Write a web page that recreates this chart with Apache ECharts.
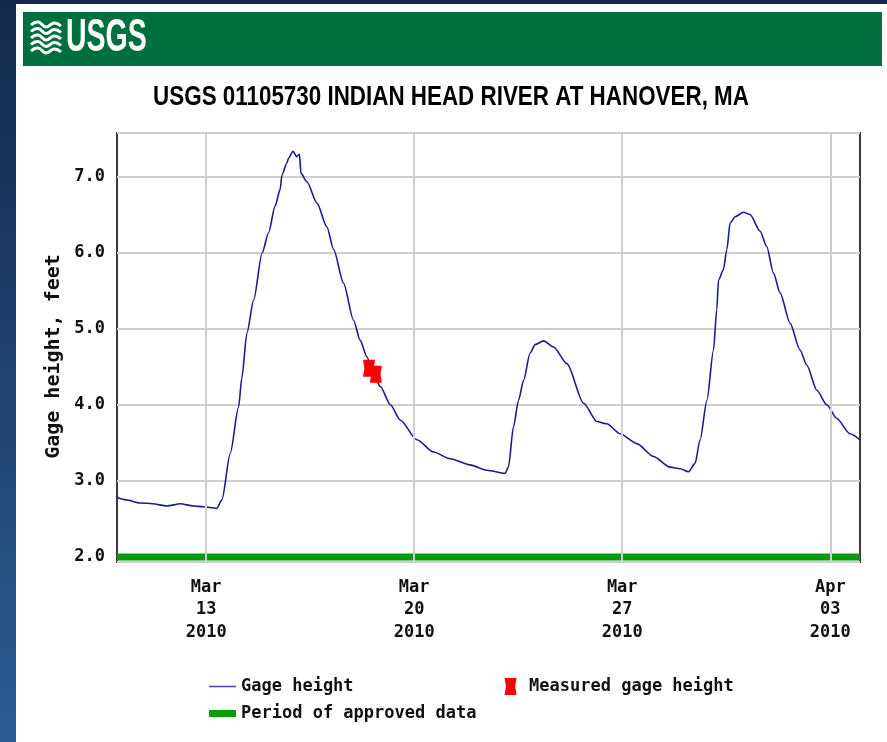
<!DOCTYPE html>
<html>
<head>
<meta charset="utf-8">
<title>USGS 01105730 Indian Head River at Hanover, MA</title>
<script src="https://cdn.jsdelivr.net/npm/echarts@6/dist/echarts.min.js"></script>
<style>
  html, body { margin: 0; padding: 0; background: #fff; }
  #chart { width: 887px; height: 742px; }
</style>
</head>
<body>
<div id="chart"></div>
<script>
// days counted from Mar 10 2010 00:00
var gageDay = [0, 0.3, 0.78, 1.2, 1.68, 2.13, 2.58, 2.9, 3.36, 3.53, 3.81, 4.09, 4.2, 4.37, 4.6,
    4.88, 5.1, 5.32, 5.49, 5.55, 5.72, 5.77, 5.92, 6.05, 6.14, 6.19, 6.39, 6.73, 7.06, 7.29,
    7.62, 7.96, 8.18, 8.41, 8.6, 8.86, 9.2, 9.53, 10.09, 10.65, 11.21, 11.88, 12.44, 13.06,
    13.17, 13.34, 13.51, 13.68, 13.9, 14.07, 14.35, 14.69, 15.14, 15.7, 16.15, 16.48, 16.93,
    17.49, 18.05, 18.61, 18.95, 19.23, 19.45, 19.62, 19.85, 20.07, 20.18, 20.24, 20.4, 20.52,
    20.63, 20.8, 21.08, 21.3, 21.64, 21.86, 22.09, 22.31, 22.65, 22.98, 23.21, 23.55, 23.88,
    24.22, 24.66, 25];
var gageHeight = [2.78, 2.75, 2.71, 2.7, 2.67, 2.7, 2.67, 2.66, 2.64, 2.75, 3.36, 3.97, 4.35, 4.94, 5.38,
    5.99, 6.26, 6.61, 6.83, 7.02, 7.18, 7.24, 7.33, 7.26, 7.29, 7.04, 6.93, 6.65, 6.34, 6.04,
    5.6, 5.11, 4.85, 4.63, 4.42, 4.24, 4.0, 3.8, 3.54, 3.38, 3.29, 3.21, 3.14, 3.1,
    3.18, 3.71, 4.06, 4.32, 4.68, 4.79, 4.84, 4.76, 4.54, 4.02, 3.78, 3.75, 3.62,
    3.49, 3.32, 3.18, 3.16, 3.12, 3.23, 3.54, 4.06, 4.72, 5.25, 5.64, 5.77, 6.04,
    6.39, 6.47, 6.53, 6.5, 6.28, 6.08, 5.73, 5.47, 5.07, 4.72, 4.52, 4.19, 4.0,
    3.82, 3.62, 3.54];
var measuredDay = [8.48, 8.71];
var measuredHeight = [4.48, 4.40];
var approvedDay = [0, 25];
var approvedHeight = [2.0, 2.0];
var tickDays = [3, 10, 17, 24];
var tickLabels = ['Mar\n13\n2010', 'Mar\n20\n2010', 'Mar\n27\n2010', 'Apr\n03\n2010'];

var mono = 'DejaVu Sans Mono';
var markerPath = 'path://M0,0 L12,0 L10.6,8.5 L12,17 L0,17 L1.4,8.5 Z';

function pairs(xs, ys) {
    var res = [];
    for (var i = 0; i < xs.length; i++) {
        res.push([xs[i], ys[i]]);
    }
    return res;
}

var waves = [];
for (var k = 0; k < 5; k++) {
    var y0 = 25 + k * 6.5;
    waves.push({
        type: 'polyline',
        shape: {points: [[31, y0], [38, y0 - 3], [46, y0 + 2], [54, y0 - 2], [61, y0 + 1]], smooth: 0.5},
        style: {stroke: '#fff', lineWidth: 3, fill: null}
    });
}

var legendText = {fontFamily: mono, fontWeight: 'bold', fontSize: 17, color: '#111'};

var myChart = echarts.init(document.getElementById('chart'));
var option = {
    backgroundColor: '#fff',
    animation: false,
    graphic: [
        {type: 'rect', shape: {x: 0, y: 0, width: 16, height: 742},
            style: {fill: {type: 'linear', x: 0, y: 0, x2: 0, y2: 1,
                colorStops: [{offset: 0, color: '#13284a'}, {offset: 1, color: '#2c5c94'}]}}},
        {type: 'rect', shape: {x: 0, y: 0, width: 887, height: 4}, style: {fill: '#13284a'}},
        {type: 'rect', shape: {x: 23, y: 12, width: 859, height: 54}, style: {fill: '#006f3f'}},
        {type: 'text', x: 66, y: 38, scaleX: 0.62,
            style: {text: 'USGS', x: 0, y: 0, fill: '#fff', font: 'bold 46px "Liberation Sans"',
                textAlign: 'left', textVerticalAlign: 'middle'}},
        {type: 'group', children: waves},
        {type: 'text', x: 451, y: 97, scaleX: 0.8,
            style: {text: 'USGS 01105730 INDIAN HEAD RIVER AT HANOVER, MA', x: 0, y: 0, fill: '#000',
                font: 'bold 28px "Liberation Sans"', textAlign: 'center', textVerticalAlign: 'middle'}}
    ],
    grid: {
        left: 117, right: 27, top: 133, bottom: 180,
        show: true, backgroundColor: '#fff', borderColor: '#3a3a3a', borderWidth: 2
    },
    legend: [
        {
            left: 209, top: 678, padding: 0, itemWidth: 27, itemHeight: 17, itemGap: 151,
            textStyle: legendText,
            data: [
                {name: 'Gage height', icon: 'path://M0,0 L27,0 L27,1.6 L0,1.6 Z'},
                {name: 'Measured gage height', icon: markerPath}
            ]
        },
        {
            left: 209, top: 705, padding: 0, itemWidth: 27, itemHeight: 17,
            textStyle: legendText,
            data: [{name: 'Period of approved data', icon: 'path://M0,0 L27,0 L27,7 L0,7 Z'}]
        }
    ],
    xAxis: {
        type: 'value', min: 0, max: 25, interval: 1,
        axisLine: {show: false}, axisTick: {show: false}, splitLine: {show: false},
        axisLabel: {
            margin: 14, lineHeight: 22.5, color: '#111',
            fontFamily: mono, fontWeight: 'bold', fontSize: 17,
            formatter: function (v) {
                var i = tickDays.indexOf(v);
                return i >= 0 ? tickLabels[i] : '';
            }
        }
    },
    yAxis: {
        type: 'value', min: 1.934, max: 7.571, splitNumber: 5,
        name: 'Gage height, feet', nameLocation: 'middle', nameGap: 50,
        nameTextStyle: {fontFamily: mono, fontWeight: 'bold', fontSize: 20, color: '#111',
            padding: [0, 18, 0, 0]},
        axisLine: {show: false}, axisTick: {show: false},
        axisLabel: {
            margin: 12, color: '#111', fontFamily: mono, fontWeight: 'bold', fontSize: 17,
            showMinLabel: false, showMaxLabel: false,
            formatter: function (v) { return v.toFixed(1); }
        },
        splitLine: {lineStyle: {color: '#cfcfcf', width: 2}}
    },
    series: [
        {
            name: 'grid', type: 'line', data: [], silent: true, z: 1,
            markLine: {
                silent: true, symbol: 'none', label: {show: false},
                lineStyle: {color: '#cfcfcf', width: 2, type: 'solid'},
                data: tickDays.map(function (d) { return {xAxis: d}; })
            }
        },
        {
            name: 'Period of approved data', type: 'line', data: pairs(approvedDay, approvedHeight),
            symbol: 'none', z: 2,
            lineStyle: {color: '#0a9a0a', width: 7}, itemStyle: {color: '#0a9a0a'}
        },
        {
            name: 'Gage height', type: 'line', data: pairs(gageDay, gageHeight),
            symbol: 'none', z: 3, smooth: 0.25, smoothMonotone: 'x',
            lineStyle: {color: '#1a1a96', width: 1.6}, itemStyle: {color: '#4b4bb0'}
        },
        {
            name: 'Measured gage height', type: 'scatter', data: pairs(measuredDay, measuredHeight),
            symbol: markerPath, symbolSize: [12, 17], z: 4,
            itemStyle: {color: '#ff0000', opacity: 1}
        }
    ]
};
myChart.setOption(option);
</script>
</body>
</html>
